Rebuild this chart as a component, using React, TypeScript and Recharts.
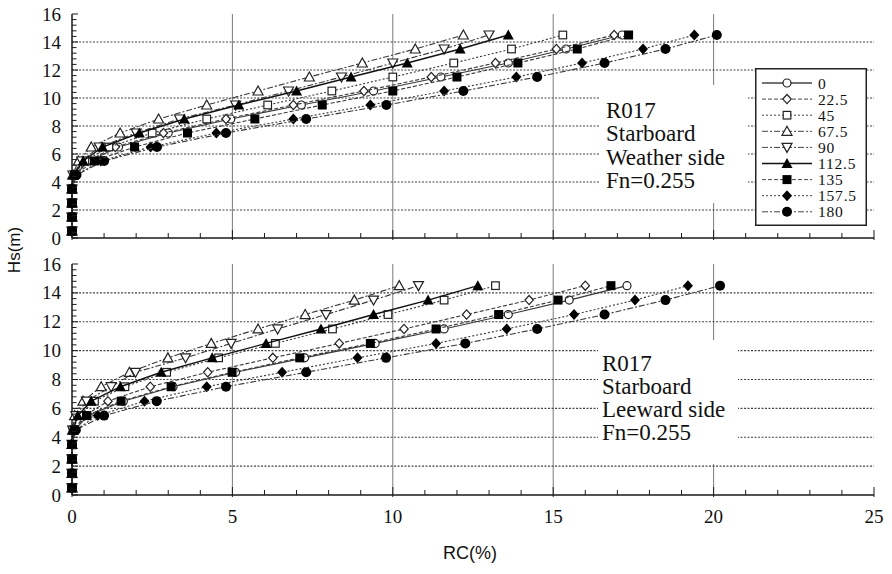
import React from 'react';
import { ScatterChart, Scatter, XAxis, YAxis, ReferenceLine, Legend } from 'recharts';

// ---------- data ----------
const HS_LEVELS = [0.5, 1.5, 2.5, 3.5, 4.5, 5.5, 6.5, 7.5, 8.5, 9.5, 10.5, 11.5, 12.5, 13.5, 14.5];

const SERIES_NAMES = ['0', '22.5', '45', '67.5', '90', '112.5', '135', '157.5', '180'];
const SERIES_MARKERS = ['circle', 'diamond', 'square', 'triangle', 'triangleDown', 'triangleFilled', 'squareFilled', 'diamondFilled', 'circleFilled'];
const SERIES_DASH = ['', '4 2', '2 2', '6 2 2 2', '6 2 2 2', '', '4 2', '2 2', '6 2 2 2'];
const DRAW_ORDER = [0, 1, 2, 3, 4, 5, 7, 8, 6];

// Weather side (top panel) RC(%) per Hs level
const WEATHER_0 = [0, 0, 0, 0, 0.07, 0.55, 1.45, 3.0, 4.95, 7.15, 9.4, 11.5, 13.6, 15.4, 17.15];
const WEATHER_22_5 = [0, 0, 0, 0, 0.06, 0.5, 1.35, 2.85, 4.8, 6.9, 9.1, 11.2, 13.2, 15.1, 16.9];
const WEATHER_45 = [0, 0, 0, 0, 0.05, 0.4, 1.15, 2.5, 4.2, 6.1, 8.1, 10.0, 11.9, 13.7, 15.3];
const WEATHER_67_5 = [0, 0, 0, 0, 0.02, 0.2, 0.6, 1.5, 2.7, 4.2, 5.8, 7.4, 9.05, 10.7, 12.2];
const WEATHER_90 = [0, 0, 0, 0, 0.03, 0.3, 0.85, 2.0, 3.35, 5.1, 6.75, 8.4, 10.0, 11.6, 13.0];
const WEATHER_112_5 = [0, 0, 0, 0, 0.04, 0.35, 0.95, 2.1, 3.5, 5.2, 7.0, 8.7, 10.45, 12.1, 13.6];
const WEATHER_135 = [0, 0, 0, 0, 0.08, 0.7, 1.95, 3.6, 5.7, 7.8, 10.0, 12.0, 13.9, 15.75, 17.35];
const WEATHER_157_5 = [0, 0, 0, 0, 0.12, 0.9, 2.45, 4.5, 6.9, 9.3, 11.6, 13.85, 15.9, 17.8, 19.4];
const WEATHER_180 = [0, 0, 0, 0, 0.14, 1.0, 2.65, 4.8, 7.3, 9.8, 12.2, 14.5, 16.6, 18.5, 20.1];

// Leeward side (bottom panel)
const LEEWARD_0 = [0, 0, 0, 0, 0.08, 0.5, 1.6, 3.15, 5.1, 7.25, 9.45, 11.6, 13.6, 15.5, 17.3];
const LEEWARD_22_5 = [0, 0, 0, 0, 0.05, 0.4, 1.12, 2.44, 4.23, 6.26, 8.33, 10.35, 12.3, 14.25, 16.0];
const LEEWARD_45 = [0, 0, 0, 0, 0.03, 0.22, 0.7, 1.65, 2.95, 4.57, 6.34, 8.12, 9.85, 11.6, 13.2];
const LEEWARD_67_5 = [0, 0, 0, 0, 0.02, 0.08, 0.34, 0.91, 1.79, 2.99, 4.34, 5.8, 7.27, 8.8, 10.2];
const LEEWARD_90 = [0, 0, 0, 0, 0.02, 0.12, 0.45, 1.22, 1.98, 3.54, 4.96, 6.41, 7.92, 9.4, 10.8];
const LEEWARD_112_5 = [0, 0, 0, 0, 0.03, 0.18, 0.6, 1.51, 2.78, 4.37, 6.05, 7.76, 9.4, 11.1, 12.65];
const LEEWARD_135 = [0, 0, 0, 0, 0.07, 0.45, 1.53, 3.09, 4.99, 7.1, 9.3, 11.35, 13.3, 15.15, 16.8];
const LEEWARD_157_5 = [0, 0, 0, 0, 0.1, 0.8, 2.26, 4.2, 6.55, 8.9, 11.35, 13.55, 15.65, 17.55, 19.2];
const LEEWARD_180 = [0, 0, 0, 0, 0.12, 1.0, 2.64, 4.8, 7.3, 9.79, 12.26, 14.5, 16.6, 18.5, 20.2];

const WEATHER = [WEATHER_0, WEATHER_22_5, WEATHER_45, WEATHER_67_5, WEATHER_90, WEATHER_112_5, WEATHER_135, WEATHER_157_5, WEATHER_180];
const LEEWARD = [LEEWARD_0, LEEWARD_22_5, LEEWARD_45, LEEWARD_67_5, LEEWARD_90, LEEWARD_112_5, LEEWARD_135, LEEWARD_157_5, LEEWARD_180];

const NOTE_WEATHER = ['R017', 'Starboard', 'Weather side', 'Fn=0.255'];
const NOTE_LEEWARD = ['R017', 'Starboard', 'Leeward side', 'Fn=0.255'];

// ---------- axes ----------
const Y_MAJOR = [0, 2, 4, 6, 8, 10, 12, 14, 16];
const Y_MINOR_STEP = 0.4;
const X_MAJOR = [0, 5, 10, 15, 20, 25];
const X_MINOR_STEP = 1;
const H_GRID = [2, 4, 6, 8, 10, 12, 14];
const V_GRID = [5, 10, 15, 20];

const Y_TICKS = Array.from({ length: Math.round(16 / Y_MINOR_STEP) + 1 }, (_, i) => Math.round(i * Y_MINOR_STEP * 10) / 10);
const X_TICKS = Array.from({ length: Math.round(25 / X_MINOR_STEP) + 1 }, (_, i) => i * X_MINOR_STEP);

const isIn = (arr: number[], v: number) => arr.some((a) => Math.abs(a - v) < 1e-6);

const SERIF_CSS = "'Liberation Serif', 'DejaVu Serif', 'Noto Serif', 'Times New Roman', serif";
const SERIF_STYLE = { fontFamily: SERIF_CSS };
const SANS = 'Liberation Sans, Arial, sans-serif';
const AXIS_COLOR = '#1a1a1a';

const toPoints = (vals: number[]) => vals.map((x, i) => ({ x, y: HS_LEVELS[i] }));

// ---------- marker ----------
const Marker = ({ cx, cy, kind }: any) => {
  if (cx == null || cy == null) return null;
  const s = '#222';
  const sw = 1.2;
  switch (kind) {
    case 'circle':
      return <circle cx={cx} cy={cy} r={4} fill="#fff" stroke={s} strokeWidth={sw} />;
    case 'circleFilled':
      return <circle cx={cx} cy={cy} r={5} fill="#000" />;
    case 'square':
      return <rect x={cx - 3.8} y={cy - 3.8} width={7.6} height={7.6} fill="#fff" stroke={s} strokeWidth={sw} />;
    case 'squareFilled':
      return <rect x={cx - 4.5} y={cy - 4.5} width={9} height={9} fill="#000" />;
    case 'diamond':
      return <polygon points={`${cx},${cy - 4.6} ${cx + 4.2},${cy} ${cx},${cy + 4.6} ${cx - 4.2},${cy}`} fill="#fff" stroke={s} strokeWidth={sw} />;
    case 'diamondFilled':
      return <polygon points={`${cx},${cy - 5.5} ${cx + 5},${cy} ${cx},${cy + 5.5} ${cx - 5},${cy}`} fill="#000" />;
    case 'triangle':
      return <polygon points={`${cx},${cy - 5} ${cx + 5},${cy + 4} ${cx - 5},${cy + 4}`} fill="#fff" stroke={s} strokeWidth={sw} />;
    case 'triangleDown':
      return <polygon points={`${cx - 5},${cy - 4} ${cx + 5},${cy - 4} ${cx},${cy + 5}`} fill="#fff" stroke={s} strokeWidth={sw} />;
    case 'triangleFilled':
      return <polygon points={`${cx},${cy - 5.5} ${cx + 5.5},${cy + 4.5} ${cx - 5.5},${cy + 4.5}`} fill="#000" />;
    default:
      return null;
  }
};

// ---------- ticks ----------
const LeftTick = ({ x, y, payload, labels }: any) => {
  const v = payload.value;
  const major = isIn(Y_MAJOR, v);
  return (
    <g>
      <line x1={x} x2={x + (major ? 6 : 4.5)} y1={y} y2={y} stroke={AXIS_COLOR} strokeWidth={1} />
      {major && labels ? (
        <text x={x - 11} y={y} textAnchor="end" dominantBaseline="central" style={SERIF_STYLE} fontSize={19} fill="#111">
          {v}
        </text>
      ) : null}
    </g>
  );
};

const RightTick = ({ x, y }: any) => (
  <line x1={x} x2={x - 5} y1={y} y2={y} stroke={AXIS_COLOR} strokeWidth={1} />
);

const BottomTick = ({ x, y, payload, labels }: any) => {
  const v = payload.value;
  const major = isIn(X_MAJOR, v);
  return (
    <g>
      <line x1={x} x2={x} y1={y + (major ? 2 : 0)} y2={y - (major ? 8 : 5)} stroke={AXIS_COLOR} strokeWidth={1} />
      {major && labels ? (
        <text x={x} y={y + 21} textAnchor="middle" dominantBaseline="central" style={SERIF_STYLE} fontSize={19} fill="#111">
          {v}
        </text>
      ) : null}
    </g>
  );
};

// ---------- legend ----------
const LegendBox = () => (
  <svg width={112} height={158} style={{ display: 'block' }}>
    <rect x={0.75} y={0.75} width={110.5} height={156.5} fill="#fff" stroke="#222" strokeWidth={1.5} />
    {SERIES_NAMES.map((name, i) => {
      const cy = 15 + i * 16.1;
      const solid = SERIES_DASH[i] === '';
      return (
        <g key={name}>
          <line
            x1={7}
            x2={57}
            y1={cy}
            y2={cy}
            stroke={i === 5 ? '#111' : '#444'}
            strokeWidth={solid ? 1.6 : 1}
            strokeDasharray={SERIES_DASH[i] || undefined}
          />
          <Marker cx={32} cy={cy} kind={SERIES_MARKERS[i]} />
          <text x={63} y={cy} dominantBaseline="central" style={SERIF_STYLE} fontSize={15.5} letterSpacing={0.8} fill="#111">
            {name}
          </text>
        </g>
      );
    })}
  </svg>
);

// ---------- panel ----------
const Panel = ({ series, height, margin, xLabels, xAxisHeight, legend }: any) => (
  <ScatterChart width={892} height={height} margin={margin}>
    <XAxis
      xAxisId={0}
      type="number"
      dataKey="x"
      domain={[0, 25]}
      ticks={X_TICKS}
      interval={0}
      height={xAxisHeight}
      tickSize={0}
      tickMargin={0}
      tickLine={false}
      axisLine={{ stroke: AXIS_COLOR, strokeWidth: 1.5 }}
      tick={(p: any) => <BottomTick {...p} labels={xLabels} />}
    />
    <XAxis xAxisId="top" orientation="top" type="number" domain={[0, 25]} height={0} tick={false} tickLine={false} axisLine={{ stroke: AXIS_COLOR, strokeWidth: 1.5 }} />
    <YAxis
      yAxisId={0}
      type="number"
      dataKey="y"
      domain={[0, 16]}
      ticks={Y_TICKS}
      interval={0}
      width={60}
      tickSize={0}
      tickMargin={0}
      tickLine={false}
      axisLine={{ stroke: AXIS_COLOR, strokeWidth: 1.5 }}
      tick={(p: any) => <LeftTick {...p} labels={true} />}
    />
    <YAxis
      yAxisId="right"
      orientation="right"
      type="number"
      domain={[0, 16]}
      ticks={Y_MAJOR}
      interval={0}
      width={0}
      tickSize={0}
      tickMargin={0}
      tickLine={false}
      axisLine={{ stroke: AXIS_COLOR, strokeWidth: 1.5 }}
      tick={(p: any) => <RightTick {...p} />}
    />
    {V_GRID.map((v) => (
      <ReferenceLine key={`v${v}`} x={v} stroke="#7a7a7a" strokeWidth={1} />
    ))}
    {H_GRID.map((v) => (
      <ReferenceLine key={`h${v}`} y={v} stroke="#444" strokeWidth={1.1} strokeDasharray="2 1.5" />
    ))}
    {DRAW_ORDER.map((i) => (
      <Scatter
        key={SERIES_NAMES[i]}
        name={SERIES_NAMES[i]}
        data={toPoints(series[i])}
        isAnimationActive={false}
        line={{
          stroke: i === 5 ? '#111' : '#3a3a3a',
          strokeWidth: i === 5 ? 1.4 : 1.1,
          strokeDasharray: SERIES_DASH[i] || undefined,
          fill: 'none',
        }}
        lineType="joint"
        shape={(p: any) => <Marker cx={p.cx} cy={p.cy} kind={SERIES_MARKERS[i]} />}
      />
    ))}
    {legend ? (
      <Legend
        layout="vertical"
        align="center"
        verticalAlign="middle"
        wrapperStyle={{ position: 'absolute', left: 755, top: 68, width: 112, height: 158 }}
        content={() => <LegendBox />}
      />
    ) : null}
  </ScatterChart>
);

const Note = ({ lines, x, y0, step }: any) => (
  <g fill="#111">
    {lines.map((t: string, i: number) => (
      <text key={i} x={x} y={y0 + i * step} dominantBaseline="central" style={SERIF_STYLE} fontSize={23}>
        {t}
      </text>
    ))}
  </g>
);

export default function App() {
  return (
    <div style={{ position: 'absolute', left: 0, top: 0, width: 892, height: 574, background: '#fff', overflow: 'hidden' }}>
      <div style={{ position: 'absolute', left: 0, top: 0 }}>
        <Panel series={WEATHER} height={270} margin={{ top: 14, right: 18, bottom: 2, left: 12 }} xLabels={false} xAxisHeight={30} legend={true} />
      </div>
      <div style={{ position: 'absolute', left: 0, top: 250 }}>
        <Panel series={LEEWARD} height={324} margin={{ top: 14, right: 18, bottom: 39, left: 12 }} xLabels={true} xAxisHeight={40} legend={false} />
      </div>
      <svg width={892} height={574} style={{ position: 'absolute', left: 0, top: 0, pointerEvents: 'none' }}>
        <rect x={600} y={85} width={148} height={118} fill="#fff" />
        <Note lines={NOTE_WEATHER} x={606} y0={110} step={23.5} />
        <rect x={598} y={340} width={140} height={124} fill="#fff" />
        <Note lines={NOTE_LEEWARD} x={602} y0={363} step={23} />
        <text x={14} y={250} transform="rotate(-90 14 250)" textAnchor="middle" dominantBaseline="central" fontFamily={SANS} fontSize={17} fill="#111">
          Hs(m)
        </text>
        <text x={470} y={553} textAnchor="middle" dominantBaseline="central" fontFamily={SANS} fontSize={18} fill="#111">
          RC(%)
        </text>
      </svg>
    </div>
  );
}
